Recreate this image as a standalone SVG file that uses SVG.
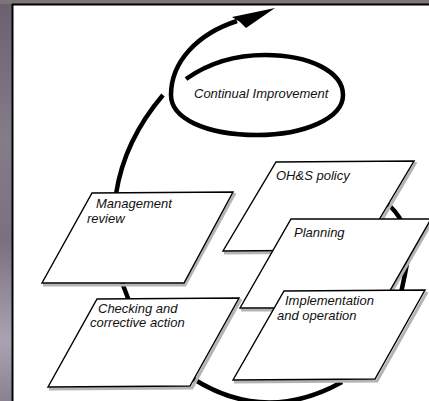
<svg xmlns="http://www.w3.org/2000/svg" width="429" height="401" viewBox="0 0 429 401">
<defs>
<linearGradient id="strip" x1="0" y1="0" x2="0" y2="1">
<stop offset="0" stop-color="#6a6070"/>
<stop offset="0.35" stop-color="#857c8a"/>
<stop offset="0.6" stop-color="#7a7080"/>
<stop offset="0.85" stop-color="#aaa2b2"/>
<stop offset="1" stop-color="#8a8290"/>
</linearGradient>
<style>
.box{fill:#fff;stroke:#000;stroke-width:1.4;stroke-linejoin:miter}
.shadow{fill:none;stroke:#b4b4b4;stroke-width:3}
.flow{fill:none;stroke:#000;stroke-width:4.5;stroke-linecap:butt}
.lbl{font-family:"Liberation Sans",Arial,sans-serif;font-style:italic;font-size:13px;fill:#111}
</style>
</defs>
<rect x="0" y="0" width="429" height="401" fill="#fff"/>
<rect x="0" y="0" width="12" height="401" fill="url(#strip)"/>
<rect x="0" y="0" width="429" height="4" fill="#7c7478"/>
<line x1="12.5" y1="4" x2="12.5" y2="401" stroke="#000" stroke-width="2"/>
<line x1="12" y1="4.5" x2="429" y2="4.5" stroke="#000" stroke-width="2"/>

<g id="connectors">
<path class="flow" d="M186,79 C210,62 238,55 265,55 C310,55 343,72 343,95 C343,118 305,135 257,135 C205,135 171,118 171,95 C171,62 197,34 237,21"/>
<polygon points="275,8 232,17 240,22 246,28" fill="#000"/>
<path class="flow" d="M163,95 C140,122 122,155 116,194"/>
<path class="flow" d="M121,280 Q125,290 129,301"/>
<path class="flow" d="M192,378 Q265,425 342,382"/>
<path class="flow" d="M386,203 Q396,210 403,224"/>
<path class="flow" d="M408,258 Q405,275 401,293"/>
</g>

<g id="oh-s-policy">
<polyline class="shadow" points="416,162 363,252 224,253"/>
<polygon class="box" points="276,162 414,161 361,250 223,251"/>
<text class="lbl" x="276" y="180">OH&amp;S policy</text>
</g>

<g id="planning">
<polyline class="shadow" points="433,220 381,310 241,310"/>
<polygon class="box" points="291,219 431,219 380,308 240,308"/>
<text class="lbl" x="294" y="237">Planning</text>
</g>

<g id="implementation">
<polyline class="shadow" points="427,292 377,381 234,382"/>
<polygon class="box" points="284,291 425,290 375,379 233,380"/>
<text class="lbl" x="285" y="305">Implementation</text>
<text class="lbl" x="277" y="320">and operation</text>
</g>

<g id="management-review">
<polyline class="shadow" points="235,193 185,285 43,285"/>
<polygon class="box" points="92,193 233,192 184,283 42,283"/>
<text class="lbl" x="96" y="208">Management</text>
<text class="lbl" x="87" y="223">review</text>
</g>

<g id="checking">
<polyline class="shadow" points="241,299 192,388 49,389"/>
<polygon class="box" points="97,299 239,298 190,386 48,387"/>
<text class="lbl" x="98" y="313">Checking and</text>
<text class="lbl" x="90" y="327">corrective action</text>
</g>

<g id="continual-improvement">
<text class="lbl" x="194" y="98">Continual Improvement</text>
</g>
</svg>
